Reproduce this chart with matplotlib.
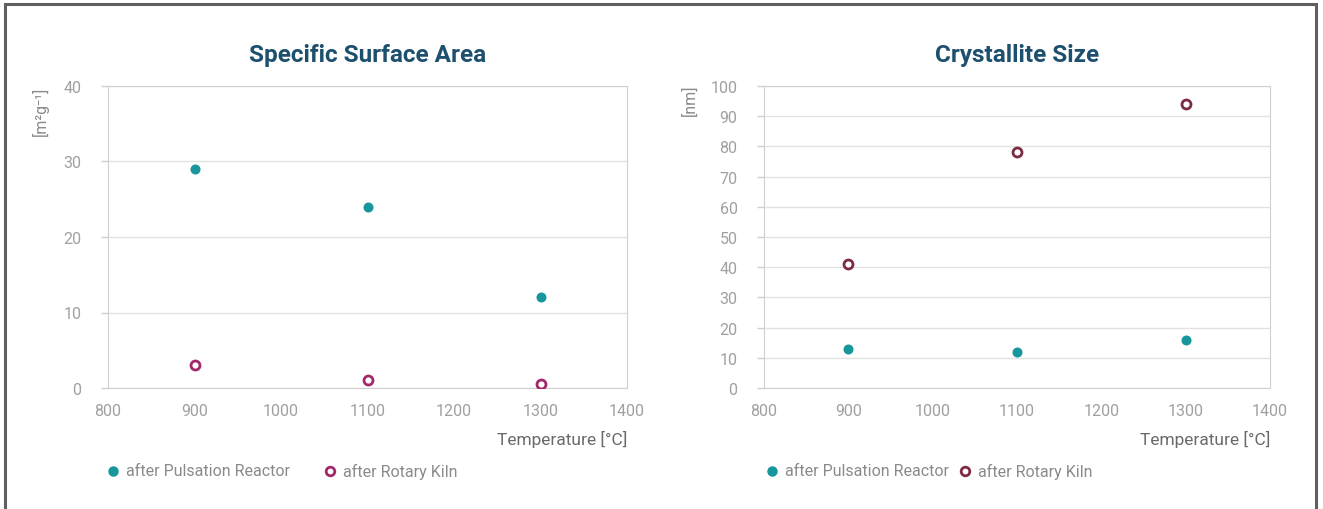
import matplotlib.pyplot as plt
from matplotlib.lines import Line2D
from matplotlib.patches import Rectangle

temps = [900, 1100, 1300]

# Specific surface area [m2/g]
ssa_pulsation = [29, 24, 12]
ssa_kiln = [3, 1, 0.5]

# Crystallite size [nm]
cs_pulsation = [13, 12, 16]
cs_kiln = [41, 78, 94]

x_ticks = [800, 900, 1000, 1100, 1200, 1300, 1400]
legend_labels = ['after Pulsation Reactor', 'after Rotary Kiln']

TEAL = '#17969c'
KILN_LEFT = '#a2286a'
KILN_RIGHT = '#7c2b40'
TITLE = '#1d4f6e'
GRID = '#e2e2e2'
SPINE = '#cfcfcf'
TICK = '#a0a0a0'
LABEL = '#8a8a8a'

W, H = 1323, 510
plt.rcParams['font.family'] = ['Roboto', 'DejaVu Sans']


def draw_panel(ax, title, ymax, ystep, pulsation, kiln, kiln_color):
    ax.scatter(temps, pulsation, s=52, color=TEAL, zorder=3, linewidths=0)
    ax.scatter(temps, kiln, s=42, facecolors='white', edgecolors=kiln_color,
               linewidths=2, zorder=3)
    ax.set_xlim(800, 1400)
    ax.set_ylim(0, ymax)
    ax.set_xticks(x_ticks)
    ax.set_yticks(range(0, ymax + 1, ystep))
    ax.grid(axis='y', color=GRID, linewidth=1)
    ax.set_axisbelow(True)
    for s in ax.spines.values():
        s.set_color(SPINE)
    ax.tick_params(axis='x', length=0, pad=11, colors=TICK, labelsize=11.5)
    ax.tick_params(axis='y', length=5, width=1, pad=14, colors=TICK,
                   labelsize=11.5)
    ax.tick_params(axis='y', color=SPINE)
    ax.set_title(title, color=TITLE, fontsize=17.5, fontweight='bold', pad=18)
    ax.text(1.0, -0.14, 'Temperature [°C]', transform=ax.transAxes,
            ha='right', va='top', color='#6a6a6a', fontsize=12.5)


def draw_legend(x_marker1, x_marker2, kiln_color, y=472):
    yf = 1 - y / H
    fig.add_artist(Line2D([x_marker1 / W], [yf], marker='o', linestyle='none',
                          markersize=6.5, markerfacecolor=TEAL,
                          markeredgecolor=TEAL))
    fig.add_artist(Line2D([x_marker2 / W], [yf], marker='o', linestyle='none',
                          markersize=6.2, markerfacecolor='white',
                          markeredgecolor=kiln_color, markeredgewidth=2))
    fig.text((x_marker1 + 13) / W, yf, legend_labels[0], ha='left',
             va='center', color=LABEL, fontsize=11.5)
    fig.text((x_marker2 + 13) / W, yf, legend_labels[1], ha='left',
             va='center', color=LABEL, fontsize=11.5)


fig = plt.figure(figsize=(W / 100, H / 100), dpi=100)
ax1 = fig.add_axes([108 / W, 1 - 389 / H, 519 / W, 302 / H])
ax2 = fig.add_axes([764 / W, 1 - 389 / H, 506 / W, 302 / H])

draw_panel(ax1, 'Specific Surface Area', 40, 10,
           ssa_pulsation, ssa_kiln, KILN_LEFT)
draw_panel(ax2, 'Crystallite Size', 100, 10,
           cs_pulsation, cs_kiln, KILN_RIGHT)

fig.text(40 / W, 1 - 87 / H, '[m²g⁻¹]', rotation=90, ha='center',
         va='top', color=LABEL, fontsize=11.5)
fig.text(690 / W, 1 - 84 / H, '[nm]', rotation=90, ha='center',
         va='top', color=LABEL, fontsize=11.5)

draw_legend(113, 330, KILN_LEFT)
draw_legend(772, 965, KILN_RIGHT)

# outer frame, open at the bottom
fig.patches.append(Rectangle((5 / W, -0.1), 1311 / W, 1.1 - 5 / H,
                             transform=fig.transFigure, fill=False,
                             edgecolor='#5f5f5f', linewidth=2.2))

fig.savefig('out.png', dpi=100)
